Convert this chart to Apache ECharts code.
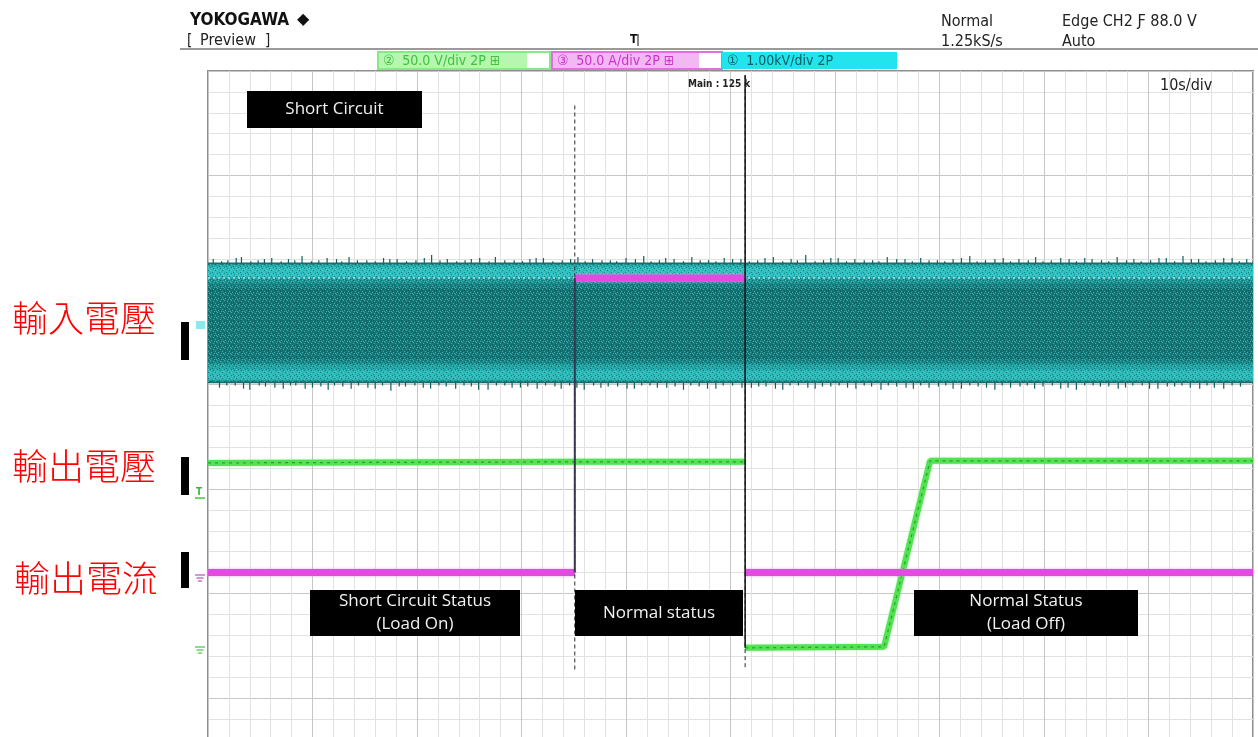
<!DOCTYPE html>
<html>
<head>
<meta charset="utf-8">
<script src="https://cdn.jsdelivr.net/npm/echarts@6/dist/echarts.min.js"></script>
<style>
html,body{margin:0;padding:0;background:#ffffff;}
#scope{width:1258px;height:737px;}
</style>
</head>
<body>
<div id="scope"></div>
<script>
// ---- Time base: 10 s/div, 10 divisions; vertical scale in divisions (0..8) ----
const timeRange = [0, 100];
const divRange = [0, 8];

// Cursor / event times (s)
const cursorTimes = [35.1, 51.4];
const cursorTop = [7.67, 7.96];
const cursorBottom = [2.27, 2.27];

// CH1 input voltage envelope (div)
const inputTime = [0, 100];
const inputTop = [6.16, 6.16];
const inputBottom = [5.02, 5.02];
const inputRidge = [6.02, 6.02];

// Noise spikes on the envelope edges
const hairUpTime = [0.5,1.3,1.9,2.7,3.2,4.1,4.8,5.4,6.1,7.0,7.7,8.3,9.0,9.9,10.6,11.4,12.3,12.8,13.5,14.3,15.2,16.0,16.8,17.4,18.1,19.0,19.9,20.7,21.4,22.2,22.9,23.8,24.6,25.2,26.0,26.9,27.5,28.4,29.3,30.1,30.8,31.4,32.1,33.0,33.9,34.7,35.4,36.1,36.8,37.7,38.5,39.1,40.0,40.9,41.7,42.4,43.2,43.8,44.6,45.5,46.3,47.1,47.9,48.6,49.4,50.2,51.0,51.8,52.6,53.3,54.1,55.0,55.8,56.4,57.2,58.1,58.9,59.6,60.3,61.1,61.9,62.8,63.6,64.2,65.0,65.9,66.7,67.4,68.2,69.0,69.8,70.5,71.3,72.1,72.9,73.6,74.4,75.3,76.1,76.8,77.6,78.5,79.2,79.9,80.7,81.6,82.4,83.1,83.9,84.6,85.5,86.2,87.0,87.9,88.6,89.3,90.2,91.0,91.7,92.5,93.3,94.1,94.8,95.5,96.4,97.2,98.0,98.7,99.4];
const hairUpValue = [6.20,6.18,6.19,6.21,6.22,6.18,6.19,6.20,6.21,6.18,6.20,6.19,6.23,6.18,6.19,6.21,6.20,6.18,6.22,6.19,6.19,6.18,6.21,6.20,6.20,6.18,6.19,6.21,6.24,6.19,6.20,6.18,6.19,6.20,6.21,6.18,6.22,6.19,6.19,6.18,6.20,6.21,6.21,6.18,6.19,6.20,6.22,6.18,6.20,6.19,6.19,6.18,6.21,6.20,6.23,6.18,6.19,6.21,6.20,6.18,6.22,6.19,6.19,6.18,6.21,6.20,6.20,6.18,6.19,6.21,6.22,6.18,6.20,6.19,6.24,6.18,6.19,6.21,6.21,6.18,6.20,6.19,6.19,6.18,6.22,6.20,6.20,6.18,6.21,6.19,6.19,6.18,6.20,6.21,6.23,6.18,6.19,6.20,6.21,6.18,6.20,6.19,6.22,6.18,6.19,6.21,6.20,6.18,6.21,6.20,6.19,6.18,6.22,6.19,6.20,6.18,6.19,6.21,6.21,6.18,6.23,6.20,6.20,6.18,6.19,6.21,6.21,6.18,6.20];
const hairDownTime = [1.1,1.8,2.6,3.4,4.0,4.9,5.5,6.4,7.2,7.9,8.4,9.3,10.0,10.8,11.5,12.1,12.9,13.7,14.4,15.3,16.0,16.7,17.5,18.3,18.9,19.8,20.6,21.3,22.1,22.8,23.7,24.5,25.2,25.9,26.8,27.6,28.4,29.1,29.9,30.6,31.5,32.3,33.2,33.8,34.6,35.3,36.0,36.9,37.6,38.3,39.2,40.1,40.8,41.5,42.3,43.0,43.9,44.7,45.5,46.2,47.0,47.8,48.6,49.3,50.2,51.1,52.0,52.7,53.4,54.3,55.0,55.7,56.5,57.4,58.1,58.8,59.6,60.4,61.2,62.0,62.8,63.5,64.4,65.1,65.9,66.8,67.5,68.2,69.0,69.9,70.6,71.3,72.1,72.9,73.7,74.5,75.3,76.0,76.8,77.7,78.4,79.1,79.9,80.8,81.6,82.3,83.1,83.9,84.7,85.4,86.2,87.1,87.8,88.5,89.4,90.1,90.9,91.8,92.5,93.2,94.0,94.9,95.6,96.3,97.2,98.0,98.8,99.6];
const hairDownValue = [4.97,4.99,4.99,4.96,4.95,4.99,4.98,4.97,4.96,4.99,4.99,4.96,4.97,4.98,4.95,4.99,4.98,4.96,4.99,4.97,4.96,4.99,4.94,4.98,4.98,4.99,4.97,4.96,4.99,4.98,4.96,4.99,4.98,4.95,4.95,4.99,4.99,4.97,4.97,4.98,4.96,4.99,4.98,4.96,4.99,4.97,4.95,4.99,4.97,4.98,4.98,4.96,4.96,4.99,4.99,4.97,4.97,4.98,4.95,4.99,4.98,4.96,4.96,4.99,4.99,4.97,4.97,4.98,4.98,4.96,4.95,4.99,4.99,4.97,4.96,4.98,4.98,4.99,4.97,4.96,4.99,4.98,4.95,4.99,4.98,4.97,4.96,4.99,4.97,4.98,4.99,4.96,4.96,4.99,4.98,4.97,4.95,4.99,4.97,4.98,4.99,4.96,4.98,4.99,4.96,4.97,4.95,4.99,4.99,4.98,4.98,4.96,4.97,4.99,4.99,4.96,4.96,4.98,4.98,4.99,4.97,4.96,4.99,4.97,4.96,4.99,4.98];

// CH2 output voltage (div); null breaks the trace
const outVoltTime  = [0,    35.1, 51.4, 51.4, 51.4, 64.7, 69.1, 100];
const outVoltValue = [4.25, 4.26, 4.26, null, 2.48, 2.49, 4.27, 4.27];

// CH3 output current (div); null breaks the trace
const currentTime  = [0,    35.1, 35.1, 35.1, 51.4, 51.4, 51.4, 100];
const currentValue = [3.20, 3.20, null, 6.02, 6.02, null, 3.20, 3.20];

const pairs = (ts, vs) => ts.map((t, i) => vs[i] == null ? null : [t, vs[i]]);

// speckle texture for the dense input trace
const grain = document.createElement('canvas');
grain.width = 7; grain.height = 6;
(function () {
  const g = grain.getContext('2d');
  const light = [[0,0],[3,1],[5,3],[1,4],[6,5],[4,5]];
  const dark = [[2,2],[5,0],[0,3],[3,4]];
  g.fillStyle = 'rgba(110,215,215,0.55)';
  light.forEach(p => g.fillRect(p[0], p[1], 1, 1));
  g.fillStyle = 'rgba(0,55,55,0.45)';
  dark.forEach(p => g.fillRect(p[0], p[1], 1, 1));
})();

const chart = echarts.init(document.getElementById('scope'), null, {renderer: 'canvas'});

const NARROW = '"Liberation Sans Narrow","DejaVu Sans Condensed","Liberation Sans",sans-serif';
const BOXFONT = '"Open Sans","Noto Sans",sans-serif';
const CJK = '"Noto Sans CJK TC","Noto Sans CJK SC",sans-serif';
const ZTOP = 100;

function noteBox(x, y, w, h, lines) {
  const children = [{type: 'rect', z: ZTOP, shape: {x: 0, y: 0, width: w, height: h}, style: {fill: '#000'}}];
  const lh = 23;
  const y0 = h / 2 - (lines.length - 1) * lh / 2;
  lines.forEach((s, i) => children.push({
    type: 'text', z: ZTOP + 1, x: w / 2, y: y0 + i * lh,
    style: {text: s, font: '17px ' + BOXFONT, fill: '#f2f2f2', align: 'center', verticalAlign: 'middle'}
  }));
  return {type: 'group', x: x, y: y, z: ZTOP, children: children};
}
function txt(x, y, s, font, fill, extra) {
  return Object.assign({type: 'text', x: x, y: y, z: ZTOP,
    style: Object.assign({text: s, font: font, fill: fill || '#111', verticalAlign: 'middle'}, extra || {})});
}
function chanTag(x, w, fill, stroke, s, color) {
  return {type: 'group', x: x, y: 52, z: ZTOP, children: [
    {type: 'rect', z: ZTOP, shape: {x: 0, y: 0, width: w, height: 17}, style: {fill: '#fff', stroke: stroke, lineWidth: 2}},
    {type: 'rect', z: ZTOP, shape: {x: 1, y: 1, width: w - 24, height: 15}, style: {fill: fill}},
    {type: 'text', z: ZTOP + 1, x: 5, y: 9, style: {text: s, font: '14px ' + NARROW, fill: color, verticalAlign: 'middle'}}
  ]};
}
function ground(x, y, color) {
  return {type: 'group', x: x, y: y, z: ZTOP, children: [
    {type: 'line', z: ZTOP, shape: {x1: 0, y1: 0, x2: 10, y2: 0}, style: {stroke: color, lineWidth: 1.5}},
    {type: 'line', z: ZTOP, shape: {x1: 1.5, y1: 3, x2: 8.5, y2: 3}, style: {stroke: color, lineWidth: 1.5}},
    {type: 'line', z: ZTOP, shape: {x1: 3, y1: 6, x2: 7, y2: 6}, style: {stroke: color, lineWidth: 1.5}}
  ]};
}
function spikeItem(params, api) {
  const p = api.coord([api.value(0), api.value(1)]);
  const q = api.coord([api.value(0), api.value(2)]);
  return {type: 'line', shape: {x1: p[0], y1: p[1], x2: q[0], y2: q[1]}, style: {stroke: '#145e5e', lineWidth: 1.2}};
}

const option = {
  backgroundColor: '#ffffff',
  animation: false,
  // 10 x 8 divisions of 104.5 px; the lower part runs past the page edge
  grid: {left: 208, top: 71, width: 1045, height: 836, outerBoundsMode: 'none',
    show: true, borderColor: '#8e8e8e', borderWidth: 2, backgroundColor: '#ffffff'},
  xAxis: {
    type: 'value', min: timeRange[0], max: timeRange[1], interval: 10,
    axisLine: {show: false}, axisTick: {show: false}, axisLabel: {show: false},
    splitLine: {show: true, lineStyle: {color: '#c6c6c6', width: 1}},
    minorTick: {show: false, splitNumber: 5},
    minorSplitLine: {show: true, lineStyle: {color: '#e2e2e2', width: 1}}
  },
  yAxis: {
    type: 'value', min: divRange[0], max: divRange[1], interval: 1,
    axisLine: {show: false}, axisTick: {show: false}, axisLabel: {show: false},
    splitLine: {show: true, lineStyle: {color: '#c6c6c6', width: 1}},
    minorTick: {show: false, splitNumber: 5},
    minorSplitLine: {show: true, lineStyle: {color: '#e2e2e2', width: 1}}
  },
  series: [
    {
      // CH1 input voltage: dense band between envelopes
      name: 'input', type: 'custom', z: 2, clip: true,
      data: [[inputTime[0], inputTop[0], inputTime[1], inputBottom[1], inputRidge[0]]],
      renderItem: function (params, api) {
        const a = api.coord([api.value(0), api.value(1)]);
        const b = api.coord([api.value(2), api.value(3)]);
        const r = api.coord([api.value(0), api.value(4)]);
        const r2 = api.coord([api.value(2), api.value(4)]);
        const shape = {x: a[0], y: a[1], width: b[0] - a[0], height: b[1] - a[1]};
        return {type: 'group', children: [
          {type: 'rect', shape: shape, style: {fill: new echarts.graphic.LinearGradient(0, 0, 0, 1, [
            {offset: 0, color: '#177c7c'}, {offset: 0.03, color: '#2ab9b9'}, {offset: 0.1, color: '#2fc2c2'},
            {offset: 0.14, color: '#1a9494'}, {offset: 0.22, color: '#147474'}, {offset: 0.8, color: '#147676'},
            {offset: 0.87, color: '#1ea2a2'}, {offset: 0.93, color: '#2cbcbc'}, {offset: 0.98, color: '#27b0b0'},
            {offset: 1, color: '#146a6a'}])}},
          {type: 'rect', shape: shape, style: {fill: {image: grain, repeat: 'repeat'}}},
          {type: 'line', shape: {x1: a[0], y1: a[1], x2: b[0], y2: a[1]}, style: {stroke: '#1b6e6e', lineWidth: 1.5}},
          {type: 'line', shape: {x1: a[0], y1: b[1], x2: b[0], y2: b[1]}, style: {stroke: '#1b6e6e', lineWidth: 1.5}},
          {type: 'line', shape: {x1: r[0], y1: r[1], x2: r2[0], y2: r2[1]},
            style: {stroke: 'rgba(215,250,250,0.75)', lineWidth: 1.5, lineDash: [2, 3]}}
        ]};
      }
    },
    {
      name: 'input spikes up', type: 'custom', z: 3, clip: true,
      data: hairUpTime.map((t, i) => [t, hairUpValue[i], inputTop[0]]),
      renderItem: spikeItem
    },
    {
      name: 'input spikes down', type: 'custom', z: 3, clip: true,
      data: hairDownTime.map((t, i) => [t, hairDownValue[i], inputBottom[0]]),
      renderItem: spikeItem
    },
    {
      name: 'output voltage', type: 'line', z: 5, symbol: 'none', connectNulls: false,
      data: pairs(outVoltTime, outVoltValue),
      lineStyle: {color: '#52e252', width: 6, shadowColor: 'rgba(120,240,120,0.8)', shadowBlur: 2}
    },
    {
      name: 'output voltage detail', type: 'line', z: 6, symbol: 'none', connectNulls: false,
      data: pairs(outVoltTime, outVoltValue),
      lineStyle: {color: '#2f9c2f', width: 1.2, type: [3, 4]}
    },
    {
      name: 'output current', type: 'line', z: 7, symbol: 'none', connectNulls: false,
      data: pairs(currentTime, currentValue),
      lineStyle: {color: '#e04ce0', width: 7, shadowColor: 'rgba(240,150,240,0.9)', shadowBlur: 3}
    },
    {
      // cursors and step transitions
      name: 'cursors', type: 'custom', z: 8, clip: true,
      data: cursorTimes.map((t, i) => [t, cursorTop[i], cursorBottom[i]]),
      renderItem: function (params, api) {
        const t = api.value(0);
        const top = api.coord([t, api.value(1)]);
        const bot = api.coord([t, api.value(2)]);
        const children = [{type: 'line', shape: {x1: top[0], y1: top[1], x2: bot[0], y2: bot[1]},
          style: {stroke: '#2a2a2a', lineWidth: 1, lineDash: [4, 3]}}];
        let s0, s1;
        if (params.dataIndex === 0) {
          s0 = api.coord([t, currentValue[3]]); s1 = api.coord([t, currentValue[1]]);
          children.push({type: 'line', shape: {x1: s0[0], y1: s0[1], x2: s1[0], y2: s1[1]}, style: {stroke: '#3a3550', lineWidth: 2}});
        } else {
          s0 = api.coord([t, api.value(1)]); s1 = api.coord([t, outVoltValue[4]]);
          children.push({type: 'line', shape: {x1: s0[0], y1: s0[1], x2: s1[0], y2: s1[1]}, style: {stroke: '#1e1e1e', lineWidth: 1.6}});
        }
        return {type: 'group', children: children};
      }
    }
  ],
  graphic: [
    // header
    txt(190, 21, 'YOKOGAWA', 'bold 17px ' + NARROW, '#111', {letterSpacing: -0.3}),
    txt(297, 20, '◆', 'bold 16px "DejaVu Sans",sans-serif', '#111'),
    txt(187, 41, '[', '15px ' + NARROW, '#222'),
    txt(200, 41, 'Preview', '16px ' + NARROW, '#222'),
    txt(265, 41, ']', '15px ' + NARROW, '#222'),
    {type: 'line', z: ZTOP, shape: {x1: 180, y1: 49, x2: 1258, y2: 49}, style: {stroke: '#9a9a9a', lineWidth: 2}},
    chanTag(378, 172, '#b8f5b0', '#86e886', '②  50.0 V/div 2P ⊞', '#3cc43c'),
    chanTag(552, 170, '#f2b8f2', '#e070e0', '③  50.0 A/div 2P ⊞', '#cc33cc'),
    {type: 'rect', z: ZTOP, shape: {x: 722, y: 52, width: 175, height: 17}, style: {fill: '#22e4ec'}},
    txt(727, 61, '①  1.00kV/div 2P', '14px ' + NARROW, '#0a5c60'),
    txt(630, 40, 'T', 'bold 12px ' + NARROW, '#111'),
    {type: 'line', z: ZTOP, shape: {x1: 638, y1: 34, x2: 638, y2: 46}, style: {stroke: '#111', lineWidth: 1}},
    txt(941, 22, 'Normal', '16px ' + NARROW, '#222'),
    txt(941, 42, '1.25kS/s', '16px ' + NARROW, '#222'),
    txt(1062, 22, 'Edge CH2 Ƒ 88.0 V', '16px ' + NARROW, '#222'),
    txt(1062, 42, 'Auto', '16px ' + NARROW, '#222'),
    txt(688, 84, 'Main : 125 k', 'bold 10px ' + NARROW, '#222'),
    txt(1160, 86, '10s/div', '16px ' + NARROW, '#222'),
    // annotation boxes
    noteBox(247, 91, 175, 37, ['Short Circuit']),
    noteBox(310, 590, 210, 46, ['Short Circuit Status', '(Load On)']),
    noteBox(575, 590, 168, 46, ['Normal status']),
    noteBox(914, 590, 224, 46, ['Normal Status', '(Load Off)']),
    // channel markers at left edge
    {type: 'rect', z: ZTOP, shape: {x: 181, y: 322, width: 8, height: 38}, style: {fill: '#000'}},
    {type: 'rect', z: ZTOP, shape: {x: 181, y: 457, width: 8, height: 38}, style: {fill: '#000'}},
    {type: 'rect', z: ZTOP, shape: {x: 181, y: 552, width: 8, height: 36}, style: {fill: '#000'}},
    {type: 'polygon', z: ZTOP, shape: {points: [[196, 321], [205, 321], [205, 329], [196, 329]]}, style: {fill: '#8ce8ee'}},
    txt(196, 492, 'T', 'bold 10px ' + NARROW, '#3cb83c'),
    {type: 'line', z: ZTOP, shape: {x1: 195, y1: 498, x2: 205, y2: 498}, style: {stroke: '#6fd46f', lineWidth: 2}},
    ground(195, 575, '#c870c8'),
    ground(195, 647, '#66d466'),
    // channel names
    txt(12, 318, '輸入電壓', '300 36px ' + CJK, '#ff0000'),
    txt(12, 466, '輸出電壓', '300 36px ' + CJK, '#ff0000'),
    txt(14, 578, '輸出電流', '300 36px ' + CJK, '#ff0000')
  ]
};
chart.setOption(option);
</script>
</body>
</html>
